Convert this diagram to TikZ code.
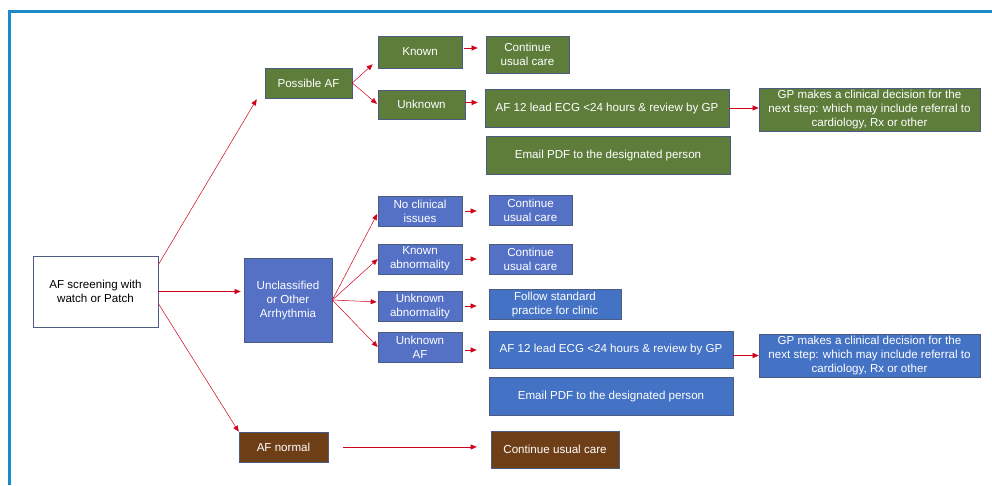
\documentclass[tikz,border=0pt]{standalone}
\usepackage{fontspec}
\setmainfont{Liberation Sans}
\usetikzlibrary{arrows.meta}
\definecolor{frameblue}{HTML}{1C8AC8}
\definecolor{boxgreen}{HTML}{5E7D3B}
\definecolor{boxblueA}{HTML}{5571C6}
\definecolor{boxblueB}{HTML}{4472C4}
\definecolor{boxbrown}{HTML}{6E3E17}
\definecolor{boxline}{HTML}{4A5C80}
\definecolor{arrred}{HTML}{D0021B}
\tikzset{
  base/.style={draw=boxline, line width=0.6pt, inner sep=0pt, align=center,
    font=\fontsize{11.6}{14}\selectfont},
  wbox/.style={base, fill=white, text=black},
  gbox/.style={base, fill=boxgreen, text=white},
  bboxA/.style={base, fill=boxblueA, text=white},
  bboxB/.style={base, fill=boxblueB, text=white},
  brbox/.style={base, fill=boxbrown, text=white},
  conn/.style={draw=arrred, line width=0.5pt, -{Triangle[length=6pt,width=5pt]}},
}
% box from (x1,y1) to (x2,y2) in pixel coordinates
\newcommand{\pbox}[7]{%
  \node[#1, minimum width=#5-#3, minimum height=#6-#4] (#2) at ({(#3+#5)/2},{-(#4+#6)/2}) {#7};}
\begin{document}
\begin{tikzpicture}[x=1pt,y=1pt]
\useasboundingbox (0,0) rectangle (992,-485);
\draw[frameblue, line width=3pt] (9,-485) -- (9,-11) -- (992,-11);

\pbox{wbox}{start}{33}{256}{158}{327}{AF screening with\\watch or Patch}
\pbox{gbox}{paf}{265}{68}{352}{98}{Possible AF}
\pbox{bboxA}{unc}{244}{258}{332}{342}{Unclassified\\or Other\\Arrhythmia}
\pbox{brbox}{afn}{239}{432}{328}{462}{AF normal}

\pbox{gbox}{known}{378}{36}{462}{68}{Known}
\pbox{gbox}{unknown}{378}{90}{465}{119}{Unknown}
\pbox{gbox}{cont1}{486}{36}{569}{73}{Continue\\usual care}
\pbox{gbox}{ecg1}{485}{89}{729}{127}{AF 12 lead ECG <24 hours \& review by GP}
\pbox{gbox}{email1}{486}{136}{730}{174}{Email PDF to the designated person}
\pbox{gbox}{gp1}{759}{88}{980}{131}{GP makes a clinical decision for the\\next step: which may include referral to\\cardiology, Rx or other}

\pbox{bboxA}{ncl}{378}{196}{462}{226}{No clinical\\issues}
\pbox{bboxA}{kab}{378}{244}{462}{274}{Known\\abnormality}
\pbox{bboxA}{uab}{378}{291}{462}{321}{Unknown\\abnormality}
\pbox{bboxA}{uaf}{378}{332}{462}{362}{Unknown\\AF}
\pbox{bboxA}{cont2}{489}{195}{572}{225}{Continue\\usual care}
\pbox{bboxA}{cont3}{489}{244}{572}{274}{Continue\\usual care}
\pbox{bboxB}{fsp}{489}{289}{621}{319}{Follow standard\\practice for clinic}
\pbox{bboxB}{ecg2}{489}{331}{733}{368}{AF 12 lead ECG <24 hours \& review by GP}
\pbox{bboxB}{email2}{489}{377}{733}{415}{Email PDF to the designated person}
\pbox{bboxB}{gp2}{759}{334}{980}{377}{GP makes a clinical decision for the\\next step: which may include referral to\\cardiology, Rx or other}
\pbox{brbox}{cont4}{491}{431}{619}{468}{Continue usual care}

% from start
\draw[conn] ([yshift=-9pt]start.north east) -- ([xshift=-8pt,yshift=-1pt]paf.south west);
\draw[conn, shorten >=3pt] (start.east) -- (start.east -| unc.west);
\draw[conn] ([yshift=-12pt]start.east) -- (afn.north west);

% possible AF branch
\draw[conn] (paf.east) -- ([xshift=-5pt,yshift=4pt]known.south west);
\draw[conn, shorten >=1pt] (paf.east) -- (unknown.west);
\draw[conn, shorten <=2pt, shorten >=8pt] ([yshift=4pt]known.east) -- ([yshift=4pt]known.east -| cont1.west);
\draw[conn, shorten >=7pt] ([yshift=2pt]unknown.east) -- ([yshift=2pt]unknown.east -| ecg1.west);
\draw[conn] (ecg1.east) -- (ecg1.east -| gp1.west);

% unclassified branch
\draw[conn, shorten >=1pt] (unc.east) -- ([yshift=-2pt]ncl.west);
\draw[conn] (unc.east) -- (kab.west);
\draw[conn, shorten >=1pt] (unc.east) -- ([yshift=4pt]uab.west);
\draw[conn] (unc.east) -- (uaf.west);
\draw[conn, shorten <=3pt, shorten >=12pt] (ncl.east) -- (ncl.east -| cont2.west);
\draw[conn, shorten <=3pt, shorten >=12pt] (kab.east) -- (kab.east -| cont3.west);
\draw[conn, shorten <=3pt, shorten >=12pt] (uab.east) -- (uab.east -| fsp.west);
\draw[conn, shorten <=3pt, shorten >=12pt] ([yshift=-3pt]uaf.east) -- ([yshift=-3pt]uaf.east -| ecg2.west);
\draw[conn] (gp2.west -| ecg2.east) -- (gp2.west);

% AF normal
\draw[conn, shorten <=15pt, shorten >=14pt] (afn.east) -- (afn.east -| cont4.west);
\end{tikzpicture}
\end{document}
